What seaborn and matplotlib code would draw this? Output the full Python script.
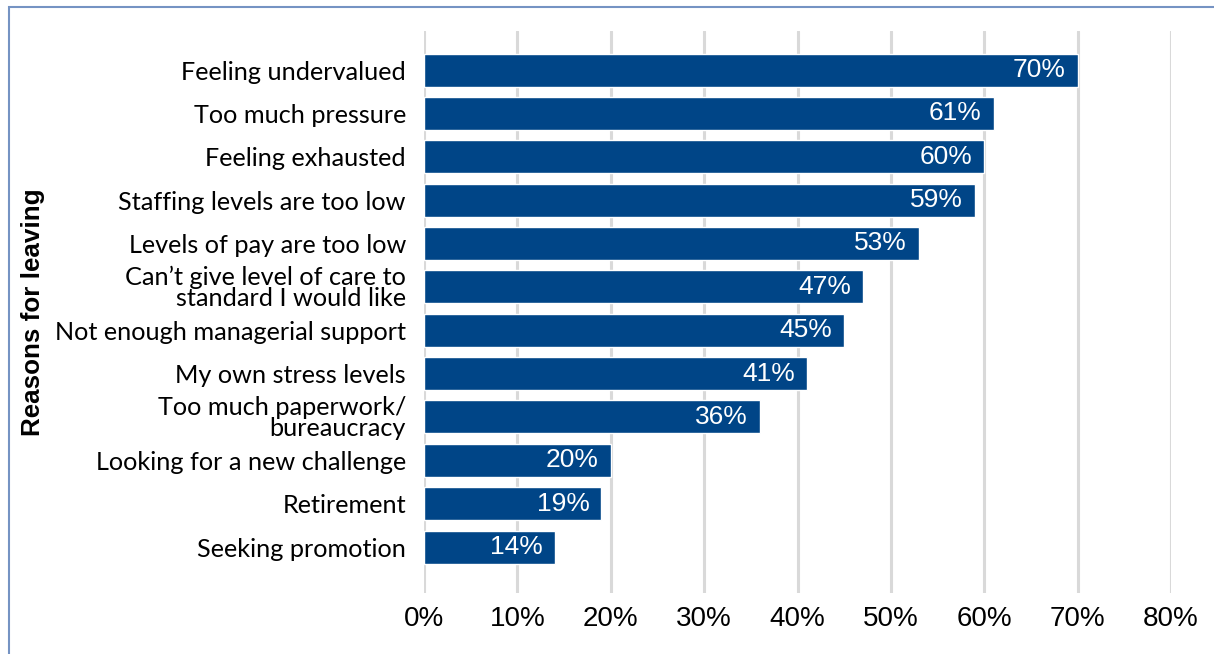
import matplotlib
matplotlib.use("Agg")
import matplotlib.pyplot as plt
import matplotlib.patches as mpatches
import seaborn as sns
import pandas as pd

categories = [
    "Feeling undervalued",
    "Too much pressure",
    "Feeling exhausted",
    "Staffing levels are too low",
    "Levels of pay are too low",
    "Can\u2019t give level of care to\nstandard I would like",
    "Not enough managerial support",
    "My own stress levels",
    "Too much paperwork/\nbureaucracy",
    "Looking for a new challenge",
    "Retirement",
    "Seeking promotion",
]
values = [70, 61, 60, 59, 53, 47, 45, 41, 36, 20, 19, 14]
x_ticks = [0, 10, 20, 30, 40, 50, 60, 70, 80]
x_tick_labels = [f"{t}%" for t in x_ticks]
y_label = "Reasons for leaving"

BAR = "#004587"
GRID = "#D9D9D9"

sns.set_style("white")
plt.rcParams["font.family"] = ["Liberation Sans", "DejaVu Sans"]

df = pd.DataFrame({"reason": categories, "pct": values})

fig = plt.figure(figsize=(12.14, 6.54), dpi=100)
ax = fig.add_axes([424 / 1214, 1 - 593 / 654, (1171 - 424) / 1214, (593 - 31) / 654])

sns.barplot(data=df, x="pct", y="reason", orient="h", color=BAR, saturation=1,
            width=0.76, ax=ax)

ax.set_xlim(0, 80)
ax.set_ylim(12.06, -0.9)
ax.set_xticks(x_ticks)
ax.set_xticklabels(x_tick_labels, fontsize=20, color="black")
ax.tick_params(axis="x", length=0, pad=9)
ax.tick_params(axis="y", length=0, pad=13)
for lab in ax.get_yticklabels():
    lab.set_fontfamily(["Lato", "DejaVu Sans"])
    lab.set_fontsize(18.2)
    lab.set_linespacing(0.9)
    lab.set_color("black")

ax.set_axisbelow(True)
ax.xaxis.grid(True, color=GRID, linewidth=2.2)
ax.yaxis.grid(False)
for s in ax.spines.values():
    s.set_visible(False)

ax.set_xlabel("")
ax.set_ylabel(y_label, fontsize=18.7, fontweight="bold", color="black")
ax.yaxis.set_label_coords(-0.507, 0.5)

for p, v in zip(ax.patches, values):
    ax.annotate(f"{v}%", (p.get_width(), p.get_y() + p.get_height() / 2),
                xytext=(-8.6, 0), textcoords="offset points",
                ha="right", va="center", color="white", fontsize=19)

border = mpatches.Rectangle((9 / 1214, -0.2), 2, 1 - 7 / 654 + 0.2,
                            transform=fig.transFigure, fill=False,
                            edgecolor="#7593C3", linewidth=1.5, clip_on=False)
fig.add_artist(border)

fig.savefig("out.png", dpi=100)
